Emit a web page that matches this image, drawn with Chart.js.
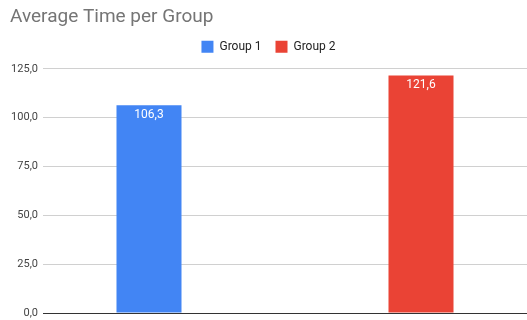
<!DOCTYPE html>
<html>
<head>
<meta charset="utf-8">
<script src="https://cdn.jsdelivr.net/npm/chart.js@4"></script>
<style>
  html, body { margin: 0; padding: 0; background: #fff; }
  #wrap { width: 527px; height: 320px; }
</style>
</head>
<body>
<div id="wrap"><canvas id="cnvChart"></canvas></div>
<script>
const title = 'Average Time per Group'
const seriesNames = ['Group 1', 'Group 2']
const seriesValues = [106.3, 121.6]
const seriesColors = ['#4285f4', '#ea4335']
const yTicks = [0, 25, 50, 75, 100, 125]

function fmt(v) {
  return v.toFixed(1).replace('.', ',')
}

// white value labels inside the top of each bar
const barLabels = {
  id: 'barLabels',
  afterDatasetsDraw(chart) {
    let ctx = chart.ctx
    ctx.save()
    ctx.fillStyle = '#ffffff'
    ctx.font = '12px Roboto, Arial, sans-serif'
    ctx.textAlign = 'center'
    ctx.textBaseline = 'middle'
    chart.data.datasets.forEach((ds, i) => {
      let bar = chart.getDatasetMeta(i).data[0]
      ctx.fillText(fmt(ds.data[0]), bar.x, bar.y + 10)
    })
    ctx.restore()
  }
}

// a bit more room under the legend
const legendGap = {
  id: 'legendGap',
  beforeInit(chart) {
    let fit = chart.legend.fit
    chart.legend.fit = function () {
      fit.bind(chart.legend)()
      this.height += 6
    }
  }
}

let ctx = document.getElementById('cnvChart').getContext('2d')
let chart = new Chart(ctx, {
  type: 'bar',
  data: {
    labels: [''],
    datasets: seriesNames.map((name, i) => ({
      label: name,
      data: [seriesValues[i]],
      backgroundColor: seriesColors[i],
      borderWidth: 0,
    })),
  },
  options: {
    responsive: true,
    maintainAspectRatio: false,
    animation: false,
    categoryPercentage: 1.124,
    barPercentage: 0.239,
    layout: { padding: { left: 10, right: 0, top: 0, bottom: 7 } },
    plugins: {
      tooltip: { enabled: false },
      title: {
        display: true,
        text: title,
        align: 'start',
        color: '#757575',
        font: { family: 'Roboto, Arial, sans-serif', size: 19, weight: 'normal' },
        padding: { top: 6, bottom: -2 },
      },
      legend: {
        display: true,
        position: 'top',
        labels: {
          boxWidth: 12,
          boxHeight: 12,
          padding: 14,
          color: '#222222',
          font: { family: 'Roboto, Arial, sans-serif', size: 12 },
        },
      },
    },
    scales: {
      x: {
        afterFit: (axis) => { axis.height = 0 },
        grid: { display: false },
        ticks: { display: false },
        border: { color: '#333333', width: 1 },
      },
      y: {
        min: 0,
        max: 125,
        afterFit: (axis) => {
          axis.width = 33
          axis.paddingTop = 0
          axis.paddingBottom = 0
        },
        afterBuildTicks: (axis) => { axis.ticks = yTicks.map((v) => ({ value: v })) },
        grid: { color: '#d0d0d0', drawTicks: false },
        border: { display: false },
        ticks: {
          padding: 5,
          color: '#444444',
          font: { family: 'Roboto, Arial, sans-serif', size: 11 },
          callback: (v) => fmt(v),
        },
      },
    },
  },
  plugins: [barLabels, legendGap],
})
</script>
</body>
</html>
